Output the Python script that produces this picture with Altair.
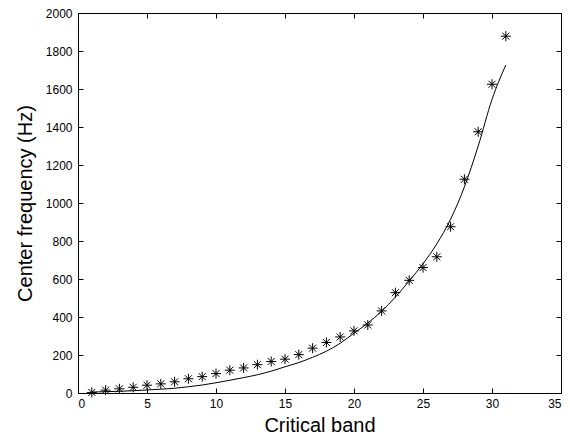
import altair as alt
import pandas as pd

bands = list(range(1, 32))
measured = [3, 15, 22, 30, 41, 48, 59, 75, 86, 102, 120, 132, 149, 166, 178, 202,
            236, 266, 295, 327, 358, 432, 528, 593, 660, 717, 875, 1125, 1375, 1625, 1878]
fitted = [5, 7, 9, 12, 16, 20, 25, 33, 42, 54, 67, 81, 96, 115, 138, 160,
          188, 220, 262, 315, 368, 430, 505, 590, 680, 785, 915, 1085, 1300, 1545, 1726]
x_ticks = [0, 5, 10, 15, 20, 25, 30, 35]
y_ticks = [0, 200, 400, 600, 800, 1000, 1200, 1400, 1600, 1800, 2000]

df = pd.DataFrame({"band": bands, "measured": measured, "fitted": fitted})

FONT = "Liberation Sans"
xs = alt.Scale(domain=[0, 35], nice=False, zero=False)
ys = alt.Scale(domain=[0, 2000], nice=False)

ASTER = "M-1,0L1,0M0,-1L0,1M-0.7,-0.7L0.7,0.7M-0.7,0.7L0.7,-0.7"

label_x = alt.Axis(values=x_ticks, format="d", ticks=False, grid=False, domain=True,
                   domainColor="black", domainWidth=1,
                   labelFont=FONT, labelFontSize=12, labelColor="black", labelPadding=5,
                   title="Critical band", titleFont=FONT, titleFontSize=20,
                   titleFontWeight="normal", titleColor="black", titlePadding=6)
label_y = alt.Axis(values=y_ticks, format="d", ticks=False, grid=False, domain=True,
                   domainColor="black", domainWidth=1,
                   labelFont=FONT, labelFontSize=12, labelColor="black", labelPadding=6,
                   title="Center frequency (Hz)", titleFont=FONT, titleFontSize=20,
                   titleFontWeight="normal", titleColor="black", titlePadding=10)

def tick_axis(orient, values):
    return alt.Axis(orient=orient, values=values, ticks=True, tickSize=5, tickColor="black",
                    tickWidth=1, offset=-5, labels=False, domain=False, grid=False, title=None)

stars = alt.Chart(df).mark_point(shape=ASTER, size=100, filled=False, color="black",
                                 strokeWidth=1, opacity=1).encode(
    x=alt.X("band:Q", scale=xs, axis=label_x),
    y=alt.Y("measured:Q", scale=ys, axis=label_y),
)

line = alt.Chart(df).mark_line(color="black", strokeWidth=1, interpolate="monotone").encode(
    x=alt.X("band:Q", scale=xs, axis=tick_axis("bottom", x_ticks)),
    y=alt.Y("fitted:Q", scale=ys, axis=tick_axis("left", y_ticks)),
)

ghost = alt.Chart(df).mark_line(opacity=0).encode(
    x=alt.X("band:Q", scale=xs, axis=tick_axis("top", x_ticks)),
    y=alt.Y("fitted:Q", scale=ys, axis=tick_axis("right", y_ticks)),
)

chart = alt.layer(stars, line, ghost).resolve_axis(
    x="independent", y="independent"
).properties(
    width=483, height=380,
    padding={"left": 78, "top": 13, "right": 9, "bottom": 52},
    autosize=alt.AutoSizeParams(type="none"),
    background="white",
).configure_view(stroke="black", strokeWidth=1)

chart.save("out.html", embed_options={"renderer": "svg", "actions": False})
